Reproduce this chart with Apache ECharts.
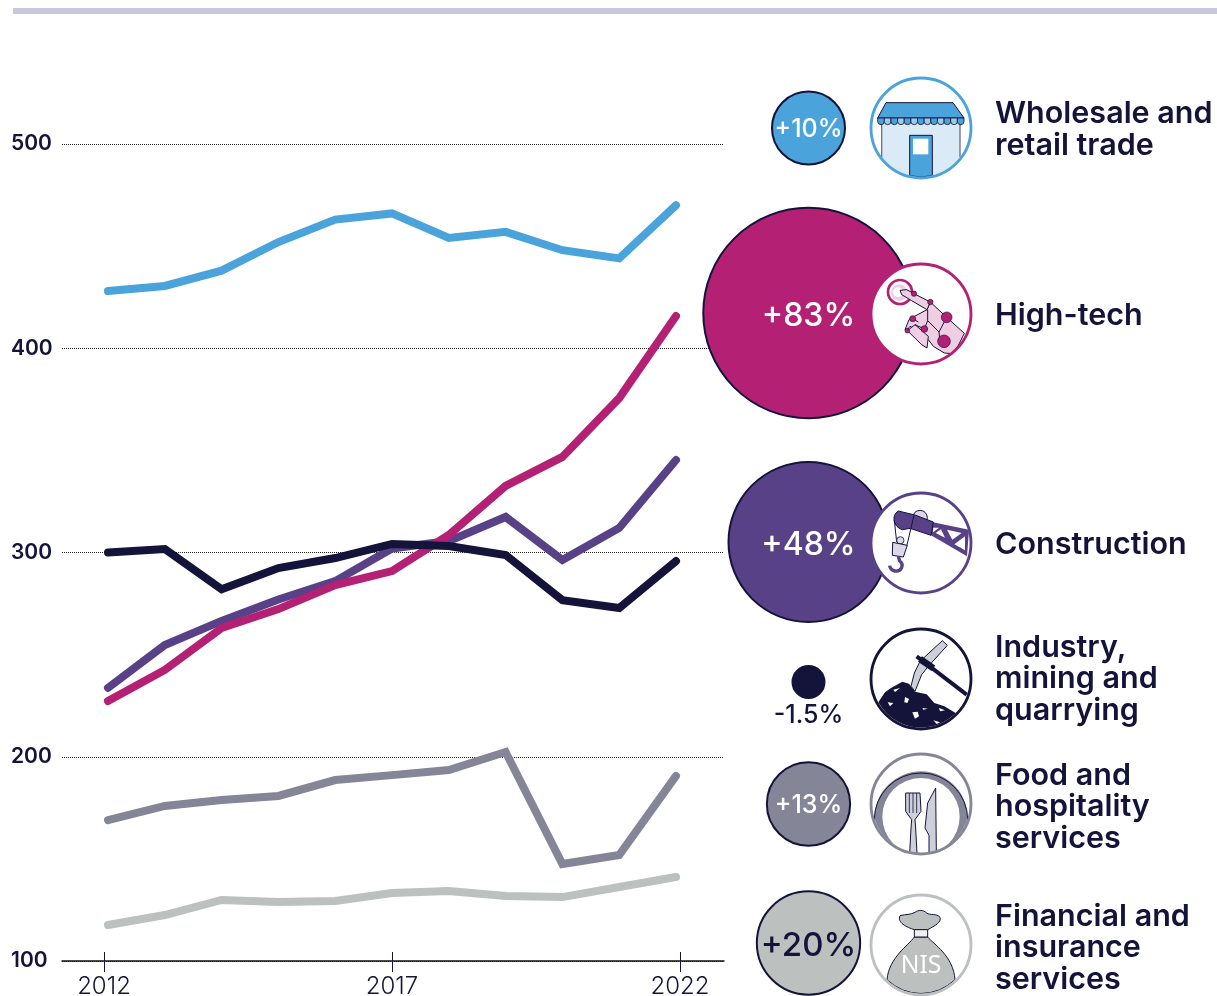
<!DOCTYPE html>
<html><head><meta charset="utf-8">
<style>html,body{margin:0;padding:0;background:#fff}#c{width:1217px;height:996px}</style>
<script src="https://cdn.jsdelivr.net/npm/echarts@6/dist/echarts.min.js"></script>
</head><body><div id="c"></div>
<script>
const years = [2012,2013,2014,2015,2016,2017,2018,2019,2020,2021,2022];
const tickYears = [2012,2017,2022];
const yTicks = [100,200,300,400,500];
const wholesale = [428,430.5,438,452,463,466,454,457,448,444,470];
const highTech = [227.3,242.5,263,272.3,284,290.9,308.6,332.6,346.8,375.6,415.8];
const construction = [233.7,254.7,266.5,277,286,302,305.6,317.4,296.3,312,345.3];
const industry = [300,301.7,282,292.4,297.3,304.2,303.2,298.8,276.7,272.8,295.8];
const food = [169,175.9,178.8,180.8,188.6,191,193.5,202.3,147.5,151.9,190.6];
const finance = [117.6,122.5,129.9,128.9,129.4,133.3,134.3,131.8,131.3,136.2,141.1];
const sectors = ['Wholesale and\nretail trade','High-tech','Construction','Industry,\nmining and\nquarrying','Food and\nhospitality\nservices','Financial and\ninsurance\nservices'];
const growth = [10,83,48,-1.5,13,20];
const growthLabels = ['+10%','+83%','+48%','-1.5%','+13%','+20%'];

// layout and styling
const NAVY='#14133a', BLUE='#4aa3db', MAG='#b32074', PUR='#584187', GREY='#858598', LGREY='#bcc0bf';
const FONT='Inter';
const rowCol=[BLUE,MAG,PUR,NAVY,GREY,LGREY];
const bubbleY=[128,313,542,682,804,943];
const iconY=[128,314,543,679,804,945];
const textY=[130,316,545,679,807,948];
const labelFont=[25,32,32,25,25,33];
const labelDy=[1,3,3,0,1,3];

function lineSeries(name,data,color){
  return {type:'line',name,xAxisIndex:0,yAxisIndex:0,showSymbol:false,symbol:'none',smooth:false,
    data:years.map((y,i)=>[y,data[i]]),
    lineStyle:{color,width:8,cap:'round',join:'miter'},clip:false,silent:true};
}
let pid=0;
const P=(d,fill,stroke,lw)=>{
  const name='iconpath'+(pid++);
  echarts.graphic.registerShape(name,echarts.graphic.extendPath(d,{}));
  return {type:name,z:20,style:{fill:fill||'none',stroke:stroke||'none',lineWidth:lw||0,lineJoin:'round'}};
};
const C=(x,y,r,fill,stroke,lw)=>({type:'circle',z:20,shape:{cx:x,cy:y,r},style:{fill:fill||'none',stroke:stroke||'none',lineWidth:lw||0}});

function shopIcon(){
  const out=[
    P('M50,150 L285,150 L285,255 A146,146 0 0 1 50,255 Z','#daeaf6'),
    P('M50,150 L50,255 M285,150 L285,255',null,'#6b7088',4),
    P('M134,311 L134,190 L202,190 L202,311 A146,146 0 0 1 134,311 Z',BLUE,NAVY,3),
    {type:'rect',z:20,shape:{x:144,y:200,width:46,height:47},style:{fill:'#fff'}},
    P('M63,92 L264,92 L297,138 L38,138 Z',BLUE,NAVY,3)
  ];
  for(let i=0;i<13;i++){
    const w=20,x=38+i*(259/13);
    out.push(P(`M${x},138 L${x+w},138 L${x+w},148 A${w/2},${w/2} 0 0 1 ${x},148 Z`,i%2?'#9ccbec':BLUE,NAVY,2.5));
  }
  return out;
}
function handIcon(){
  const pk='#efcde3';
  return [
    C(105,102,36,'#fff',MAG,8),
    C(103,104,25,pk),C(99,103,15,'#fff'),
    P('M186,155 L196,132 L245,178 L298,226 L280,262 L262,287 L238,285 L205,265 L190,245 L165,222 L135,205 L125,218 L120,215 L132,185 L143,178 Z',pk,NAVY,3),
    P('M105,97 L125,95 L147,107 L196,132 L186,155 L140,128 L110,110 Z',pk,NAVY,3),
    P('M127,218 L150,200 L190,235 L186,270 L170,260 Z',pk,NAVY,3),
    P('M188,155 L188,188 L222,222 L245,178 M222,222 L226,262 M150,200 L178,213 M188,188 L178,213 M143,182 L160,192',null,NAVY,3),
    C(147,107,8,MAG,NAVY,2),C(196,132,8,MAG,NAVY,2),C(245,178,16,MAG,NAVY,2),
    C(143,182,9,MAG,NAVY,2),C(127,218,7,MAG,NAVY,2),C(178,213,10,MAG,NAVY,2),C(237,250,19,MAG,NAVY,2)
  ];
}
function craneIcon(){
  const lt='#dcd8e8', w='#fff';
  return [
    C(165,92,22,lt,NAVY,3),
    P('M200,105 L312,128 L306,208 L198,145 Z',PUR),
    P('M205,122 L222,122 L204,136 Z',w),
    P('M228,127 L240,152 L212,138 Z',w),
    P('M246,128 L290,138 L262,158 Z',w),
    P('M300,148 L300,190 L268,172 Z',w),
    P('M100,72 L150,84 L205,105 L198,145 L135,124 L112,128 C85,120 78,85 100,72 Z',PUR,NAVY,3),
    P('M88,100 L95,165 M147,85 L125,178',null,NAVY,3),
    C(106,160,11,lt,NAVY,2.5),
    P('M83,166 L127,175 L115,210 L82,205 Z',lt,NAVY,3),
    P('M100,208 L104,222 C118,232 110,255 90,252 C80,250 75,245 74,236',null,PUR,10)
  ];
}
function mineIcon(){
  const w='#fff';
  return [
    P('M232,53 L247,67 L190,130 L170,155 L150,205 L138,190 L148,150 L165,115 Z','#cfcfd8',NAVY,3),
    P('M155,100 L305,215',null,NAVY,12),
    P('M165,108 L205,136',null,NAVY,20),
    P('M40,238 L60,208 L78,195 L112,176 L132,182 L150,206 L185,214 L208,240 L238,250 L272,270 A146,146 0 0 1 40,238 Z',NAVY),
    P('M85,200 L105,195 L90,207 Z',w),
    P('M120,222 L132,228 L127,240 L118,238 Z',w),
    P('M68,238 L85,240 L75,250 Z',w),
    P('M142,268 L158,266 L162,280 L150,287 Z',w),
    P('M172,255 L188,257 L175,260 Z',w),
    P('M222,255 L240,262 L225,265 Z',w),
    P('M205,292 L225,298 L215,303 Z',w)
  ];
}
function foodIcon(){
  const f='#cfcfda';
  return [
    P('M28,210 A140,140 0 0 1 308,210 A146,146 0 0 1 28,210 Z',GREY),
    P('M28,215 A140,140 0 0 1 308,215',null,NAVY,3),
    C(168,206,116,'#fff'),
    P('M122,135 L165,135 L168,190 L150,215 L152,240 L156,316 L134,316 L138,240 L140,215 L122,190 Z',f,NAVY,3),
    P('M133,135 L133,195 M144,135 L144,195 M155,135 L155,195',null,NAVY,2.5),
    P('M212,120 L214,312 L192,316 L192,262 L180,240 L188,165 Z',f,NAVY,3)
  ];
}
function bagIcon(){
  return [
    P('M148,144 L188,144 C205,165 265,200 270,272 A146,146 0 0 1 66,272 C72,205 130,170 148,144 Z',LGREY,NAVY,3),
    P('M105,80 C125,75 135,78 150,70 C160,62 175,62 185,72 C195,80 215,72 225,85 C230,100 210,110 188,122 L148,122 C125,115 95,100 105,80 Z',LGREY,NAVY,3),
    {type:'rect',z:20,shape:{x:148,y:122,width:40,height:22},style:{fill:'#eef0f0',stroke:NAVY,lineWidth:3}},
    {type:'text',z:20,style:{text:'NIS',x:168,y:232,align:'center',verticalAlign:'middle',fill:'#fff',font:'400 74px "Noto Sans"'}}
  ];
}
const iconFns=[shopIcon,handIcon,craneIcon,mineIcon,foodIcon,bagIcon];
const graphics=[{type:'rect',shape:{x:13,y:8,width:1204,height:6},style:{fill:'#c9c6e0'},z:10}];
iconFns.forEach((fn,i)=>{
  graphics.push({type:'group',x:865,y:iconY[i]-56,scaleX:1/3,scaleY:1/3,children:[
    C(168,168,150,'#fff'),...fn(),C(168,168,150,null,rowCol[i],8.5)
  ]});
  graphics.push({type:'text',x:995,y:textY[i],z:20,style:{text:sectors[i],align:'left',verticalAlign:'middle',fill:NAVY,font:'600 30.5px "'+FONT+'"',lineHeight:31.5}});
});

const bubbleData=growth.map((g,i)=>({
  value:[808.5,bubbleY[i]],
  symbolSize:Math.max(32,23.1*Math.sqrt(Math.abs(g))),
  itemStyle:{color:rowCol[i],borderColor:NAVY,borderWidth:2,opacity:1},
  label:{show:true,formatter:growthLabels[i],position:g<0?'bottom':'inside',distance:4,offset:[0,labelDy[i]],
    color:(g<0||i===5)?NAVY:'#fff',fontSize:labelFont[i],fontFamily:FONT,fontWeight:500}
}));

const opt={
  animation:false,backgroundColor:'#fff',
  grid:[
    {left:62,top:144,width:662,height:817,containLabel:false,outerBoundsMode:'none'},
    {left:0,top:0,width:1217,height:996,outerBoundsMode:'none'}
  ],
  xAxis:[
    {gridIndex:0,type:'value',min:2012-46/56.8,max:2022+48/56.8,position:'bottom',
      axisLine:{show:true,onZero:false,lineStyle:{color:'#111',width:1.5}},axisTick:{show:false},axisLabel:{show:false},splitLine:{show:false}},
    {gridIndex:0,type:'value',min:2012-42/57.6,max:2022+44/57.6,position:'bottom',offset:-9,
      axisLine:{show:false},
      axisTick:{show:true,length:20,customValues:tickYears,lineStyle:{color:NAVY,width:1}},
      axisLabel:{show:true,customValues:tickYears,margin:23,color:NAVY,fontSize:24,fontFamily:FONT,fontWeight:300,formatter:v=>String(v)},
      splitLine:{show:false}},
    {gridIndex:1,type:'value',min:0,max:1217,show:false}
  ],
  yAxis:[
    {gridIndex:0,type:'value',min:100,max:500,interval:100,
      axisLine:{show:false},axisTick:{show:false},
      axisLabel:{color:NAVY,fontSize:21,fontFamily:FONT,fontWeight:600,margin:51,align:'left',customValues:yTicks},
      splitLine:{show:true,lineStyle:{color:'#222',type:'dotted',width:1}}},
    {gridIndex:1,type:'value',min:0,max:996,inverse:true,show:false}
  ],
  series:[
    lineSeries('Financial and insurance services',finance,LGREY),
    lineSeries('Food and hospitality services',food,GREY),
    lineSeries('Wholesale and retail trade',wholesale,BLUE),
    lineSeries('Construction',construction,PUR),
    lineSeries('High-tech',highTech,MAG),
    lineSeries('Industry, mining and quarrying',industry,NAVY),
    {type:'scatter',xAxisIndex:2,yAxisIndex:1,data:bubbleData,symbol:'circle',silent:true,z:5}
  ],
  graphic:graphics
};
echarts.init(document.getElementById('c')).setOption(opt);
</script></body></html>
